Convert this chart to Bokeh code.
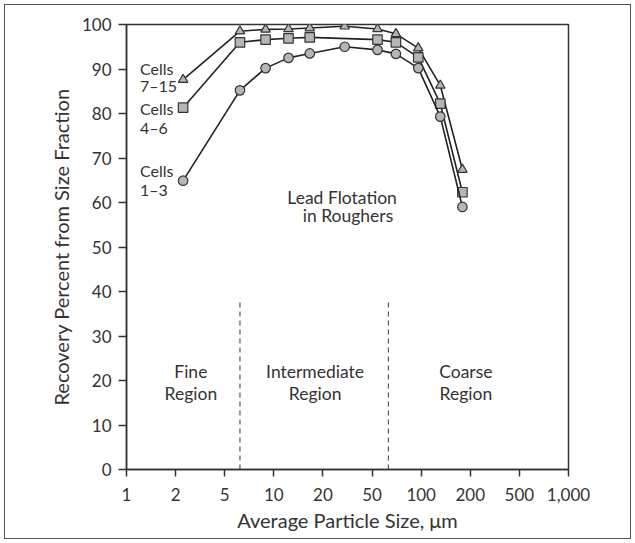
import numpy as np
from bokeh.plotting import figure
from bokeh.models import Range1d, FixedTicker, Label
from bokeh.embed import file_html
from bokeh.resources import INLINE

# Axis ticks (1-2-5 equally spaced scale)
tick_values = [1, 2, 5, 10, 20, 50, 100, 200, 500, 1000]
tick_labels = ["1", "2", "5", "10", "20", "50", "100", "200", "500", "1,000"]

# Data: average particle size (um) vs recovery (%)
size_7_15 = [2.3, 6.2, 8.9, 12.3, 16.6, 30, 54, 70, 96, 131, 179]
rec_7_15 = [87.6, 98.5, 98.9, 99.0, 99.2, 99.6, 99.0, 97.9, 94.7, 86.3, 67.4]

size_4_6 = [2.3, 6.2, 8.9, 12.3, 16.6, 54, 70, 96, 131, 179]
rec_4_6 = [81.3, 96.0, 96.6, 96.9, 97.1, 96.6, 96.0, 92.6, 82.2, 62.3]

size_1_3 = [2.3, 6.2, 8.9, 12.3, 16.6, 30, 54, 70, 96, 131, 179]
rec_1_3 = [64.9, 85.2, 90.2, 92.5, 93.5, 95.0, 94.3, 93.4, 90.2, 79.3, 59.0]

region_bounds = [6.2, 63]
region_top = 38

FONT = "Lato"
TXT = "#333333"


def pos(sizes):
    return np.interp(np.log10(sizes), np.log10(tick_values), np.arange(len(tick_values)))


p = figure(width=635, height=543, output_backend="svg", toolbar_location=None,
           x_range=Range1d(0, 9), y_range=Range1d(0, 100),
           min_border_left=126, min_border_right=67, min_border_top=24, min_border_bottom=74)
p.styles = {"outline": "1.5px solid #555555", "outline-offset": "-5px",
            "background-color": "white"}
p.border_fill_color = None
p.background_fill_color = "white"
p.grid.visible = False
p.outline_line_color = "#333333"
p.outline_line_width = 1.5

for ax in (p.xaxis[0], p.yaxis[0]):
    ax.axis_line_color = "#333333"
    ax.axis_line_width = 1.5
    ax.major_tick_line_color = "#333333"
    ax.major_tick_line_width = 1.5
    ax.major_tick_in = 0
    ax.minor_tick_line_color = None
    ax.major_label_text_font = FONT
    ax.major_label_text_font_size = "17px"
    ax.major_label_text_color = TXT
    ax.axis_label_text_font = FONT
    ax.axis_label_text_font_size = "20px"
    ax.axis_label_text_font_style = "normal"
    ax.axis_label_text_color = TXT

p.xaxis.ticker = FixedTicker(ticks=list(range(len(tick_values))))
p.xaxis.major_label_overrides = {i: l for i, l in enumerate(tick_labels)}
p.xaxis.major_tick_out = 7
p.xaxis.major_label_standoff = 11
p.xaxis.axis_label = "Average Particle Size, \u03bcm"
p.xaxis.axis_label_standoff = 4

p.yaxis.ticker = FixedTicker(ticks=list(range(0, 101, 10)))
p.yaxis.major_tick_out = 8
p.yaxis.major_label_standoff = 7
p.yaxis.axis_label = "Recovery Percent from Size Fraction"
p.yaxis.axis_label_standoff = 6

# Region boundaries
bx = pos(region_bounds)
p.segment(x0=bx, y0=[0, 0], x1=bx, y1=[region_top, region_top],
          line_color="#555555", line_width=1.2, line_dash="5 4")

series = [(size_7_15, rec_7_15, "triangle"), (size_4_6, rec_4_6, "square"),
          (size_1_3, rec_1_3, "circle")]
for s, r, m in series:
    xs = pos(s)
    p.line(xs, r, line_color="#222222", line_width=1.6)
    p.scatter(xs, r, marker=m, size=9.5, fill_color="#b5b5b5", line_color="#333333",
              line_width=1.2)

labels = [
    ("Cells", 0.275, 90.1, "left"), ("7\u201315", 0.275, 86.3, "left"),
    ("Cells", 0.275, 81.1, "left"), ("4\u20136", 0.275, 76.8, "left"),
    ("Cells", 0.275, 67.3, "left"), ("1\u20133", 0.275, 63.0, "left"),
    ("Lead Flotation", 4.39, 61.1, "center"), ("in Roughers", 4.51, 57.0, "center"),
    ("Fine", 1.31, 22.0, "center"), ("Region", 1.31, 17.0, "center"),
    ("Intermediate", 3.84, 22.0, "center"), ("Region", 3.84, 17.0, "center"),
    ("Coarse", 6.91, 22.0, "center"), ("Region", 6.91, 17.0, "center"),
]
for t, x, y, al in labels:
    fs = "16px" if al == "left" else "17.5px"
    p.add_layout(Label(x=x, y=y, text=t, text_align=al, text_baseline="middle",
                       text_font=FONT, text_font_size=fs, text_color=TXT))

open("out.html", "w").write(file_html(p, INLINE))
